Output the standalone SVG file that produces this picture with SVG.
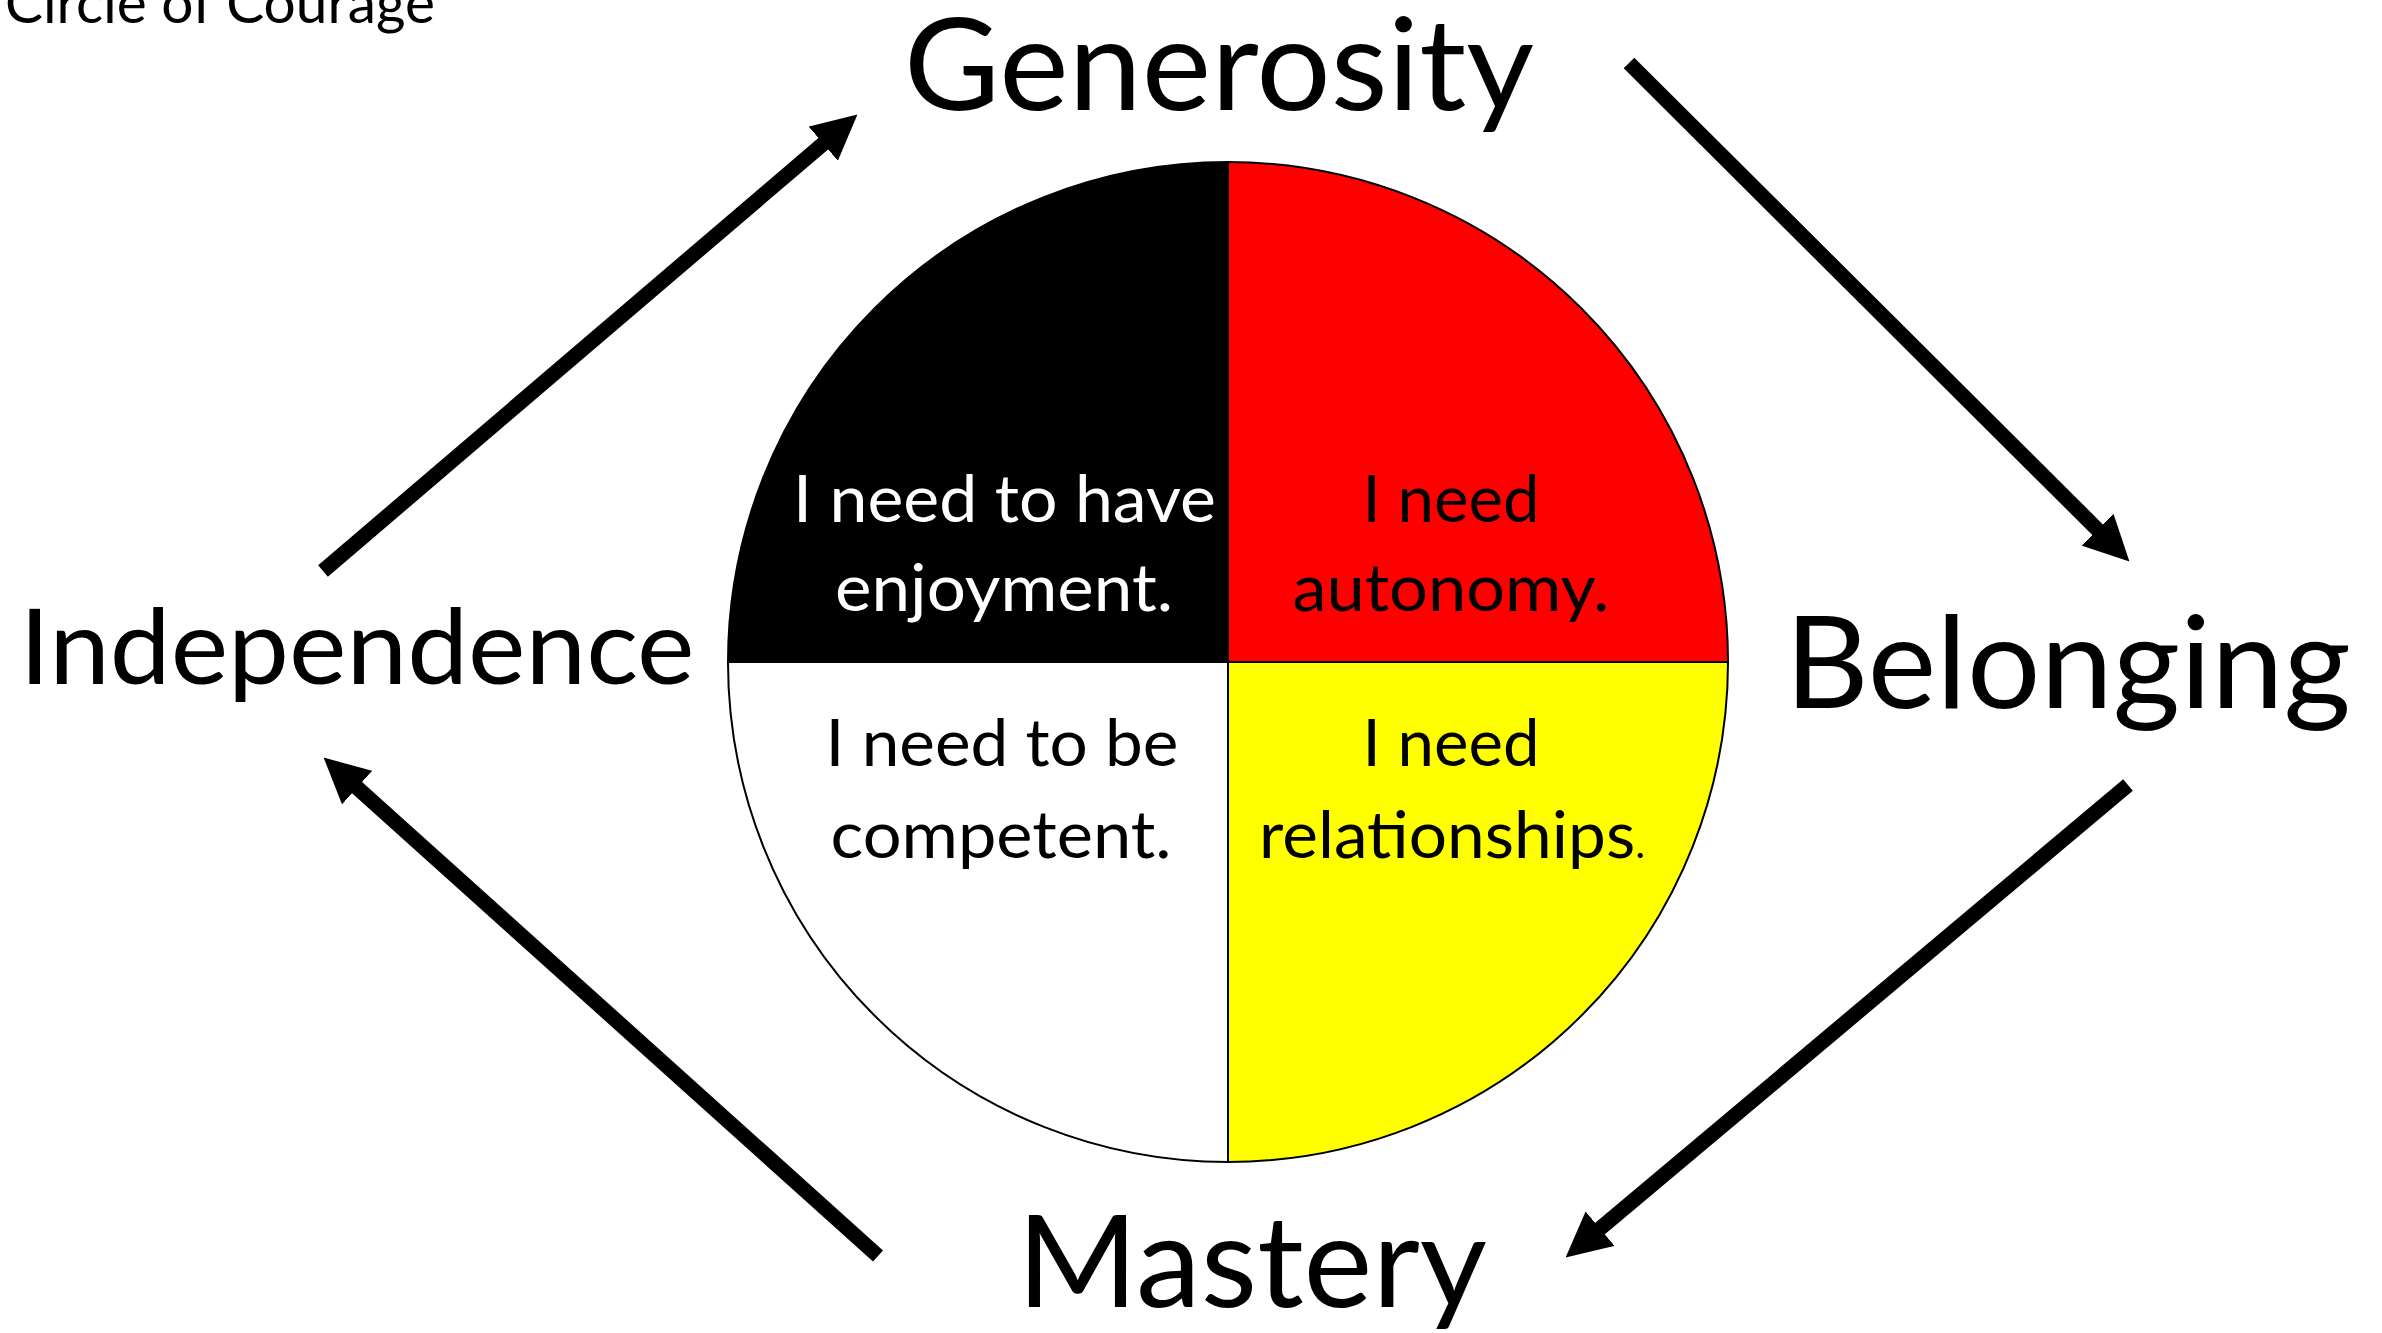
<svg xmlns="http://www.w3.org/2000/svg" width="2382" height="1333" viewBox="0 0 2382 1333">
<style>
  text { font-family: Lato, "Open Sans", "Liberation Sans", sans-serif; }
  .big { font-size: 128px; fill: #000; text-anchor: middle; }
  .inner { font-size: 65px; text-anchor: middle; }
  .w { fill: #ffffff; }
  .k { fill: #000000; }
  .conn { stroke: #000; stroke-width: 15; fill: none; stroke-linecap: butt; marker-end: url(#head); }
  .div { stroke: #000; stroke-width: 2; }
</style>
<defs>
  <marker id="head" viewBox="0 0 3 3" markerUnits="strokeWidth" markerWidth="3" markerHeight="3" refX="0.05" refY="1.5" orient="auto">
    <path d="M0,0 L3,1.5 L0,3 Z" fill="#000"/>
  </marker>
</defs>
<rect x="0" y="0" width="2382" height="1333" fill="#ffffff"/>

<g id="title">
  <text x="5" y="23" style="font-size:56px" textLength="430" lengthAdjust="spacingAndGlyphs">Circle of Courage</text>
</g>

<g id="wheel">
  <path d="M1228,662 L728,662 A500,500 0 0 1 1228,162 Z" fill="#000000"/>
  <path d="M1228,662 L1228,162 A500,500 0 0 1 1728,662 Z" fill="#ff0000"/>
  <path d="M1228,662 L1728,662 A500,500 0 0 1 1228,1162 Z" fill="#ffff00"/>
  <path d="M1228,662 L1228,1162 A500,500 0 0 1 728,662 Z" fill="#ffffff"/>
  <line class="div" x1="728" y1="662" x2="1728" y2="662"/>
  <line class="div" x1="1228" y1="162" x2="1228" y2="1162"/>
  <circle cx="1228" cy="662" r="500" fill="none" stroke="#000" stroke-width="2"/>
</g>

<g id="enjoyment">
  <text class="inner w" x="1004.5" y="522" textLength="423" lengthAdjust="spacingAndGlyphs">I need to have</text>
  <text class="inner w" x="1004" y="611" textLength="338" lengthAdjust="spacingAndGlyphs">enjoyment.</text>
</g>
<g id="autonomy">
  <text class="inner k" x="1451" y="522" textLength="177" lengthAdjust="spacingAndGlyphs">I need</text>
  <text class="inner k" x="1451" y="611" textLength="317" lengthAdjust="spacingAndGlyphs">autonomy.</text>
</g>
<g id="competent">
  <text class="inner k" x="1002" y="766" textLength="353" lengthAdjust="spacingAndGlyphs">I need to be</text>
  <text class="inner k" x="1001" y="858" textLength="341" lengthAdjust="spacingAndGlyphs">competent.</text>
</g>
<g id="relationships">
  <text class="inner k" x="1451" y="766" textLength="177" lengthAdjust="spacingAndGlyphs">I need</text>
  <text class="inner k" x="1452" y="858" textLength="386" lengthAdjust="spacingAndGlyphs">relationships<tspan style="font-size:40px">.</tspan></text>
</g>

<g id="generosity">
  <text class="big" x="1219" y="110" textLength="630" lengthAdjust="spacingAndGlyphs">Generosity</text>
</g>
<g id="belonging">
  <text class="big" x="2068" y="708" textLength="566" lengthAdjust="spacingAndGlyphs">Belonging</text>
</g>
<g id="mastery">
  <text class="big" x="1252" y="1307" textLength="470" lengthAdjust="spacingAndGlyphs">Mastery</text>
</g>
<g id="independence">
  <text class="big" x="357" y="684" style="font-size:104px" textLength="675" lengthAdjust="spacingAndGlyphs">Independence</text>
</g>

<g id="connectors">
  <line class="conn" x1="323" y1="571" x2="823.8" y2="143.2"/>
  <line class="conn" x1="1629" y1="63" x2="2098.1" y2="530.2"/>
  <line class="conn" x1="2128" y1="785" x2="1599.5" y2="1229.1"/>
  <line class="conn" x1="878" y1="1256" x2="356.5" y2="787.1"/>
</g>
</svg>
